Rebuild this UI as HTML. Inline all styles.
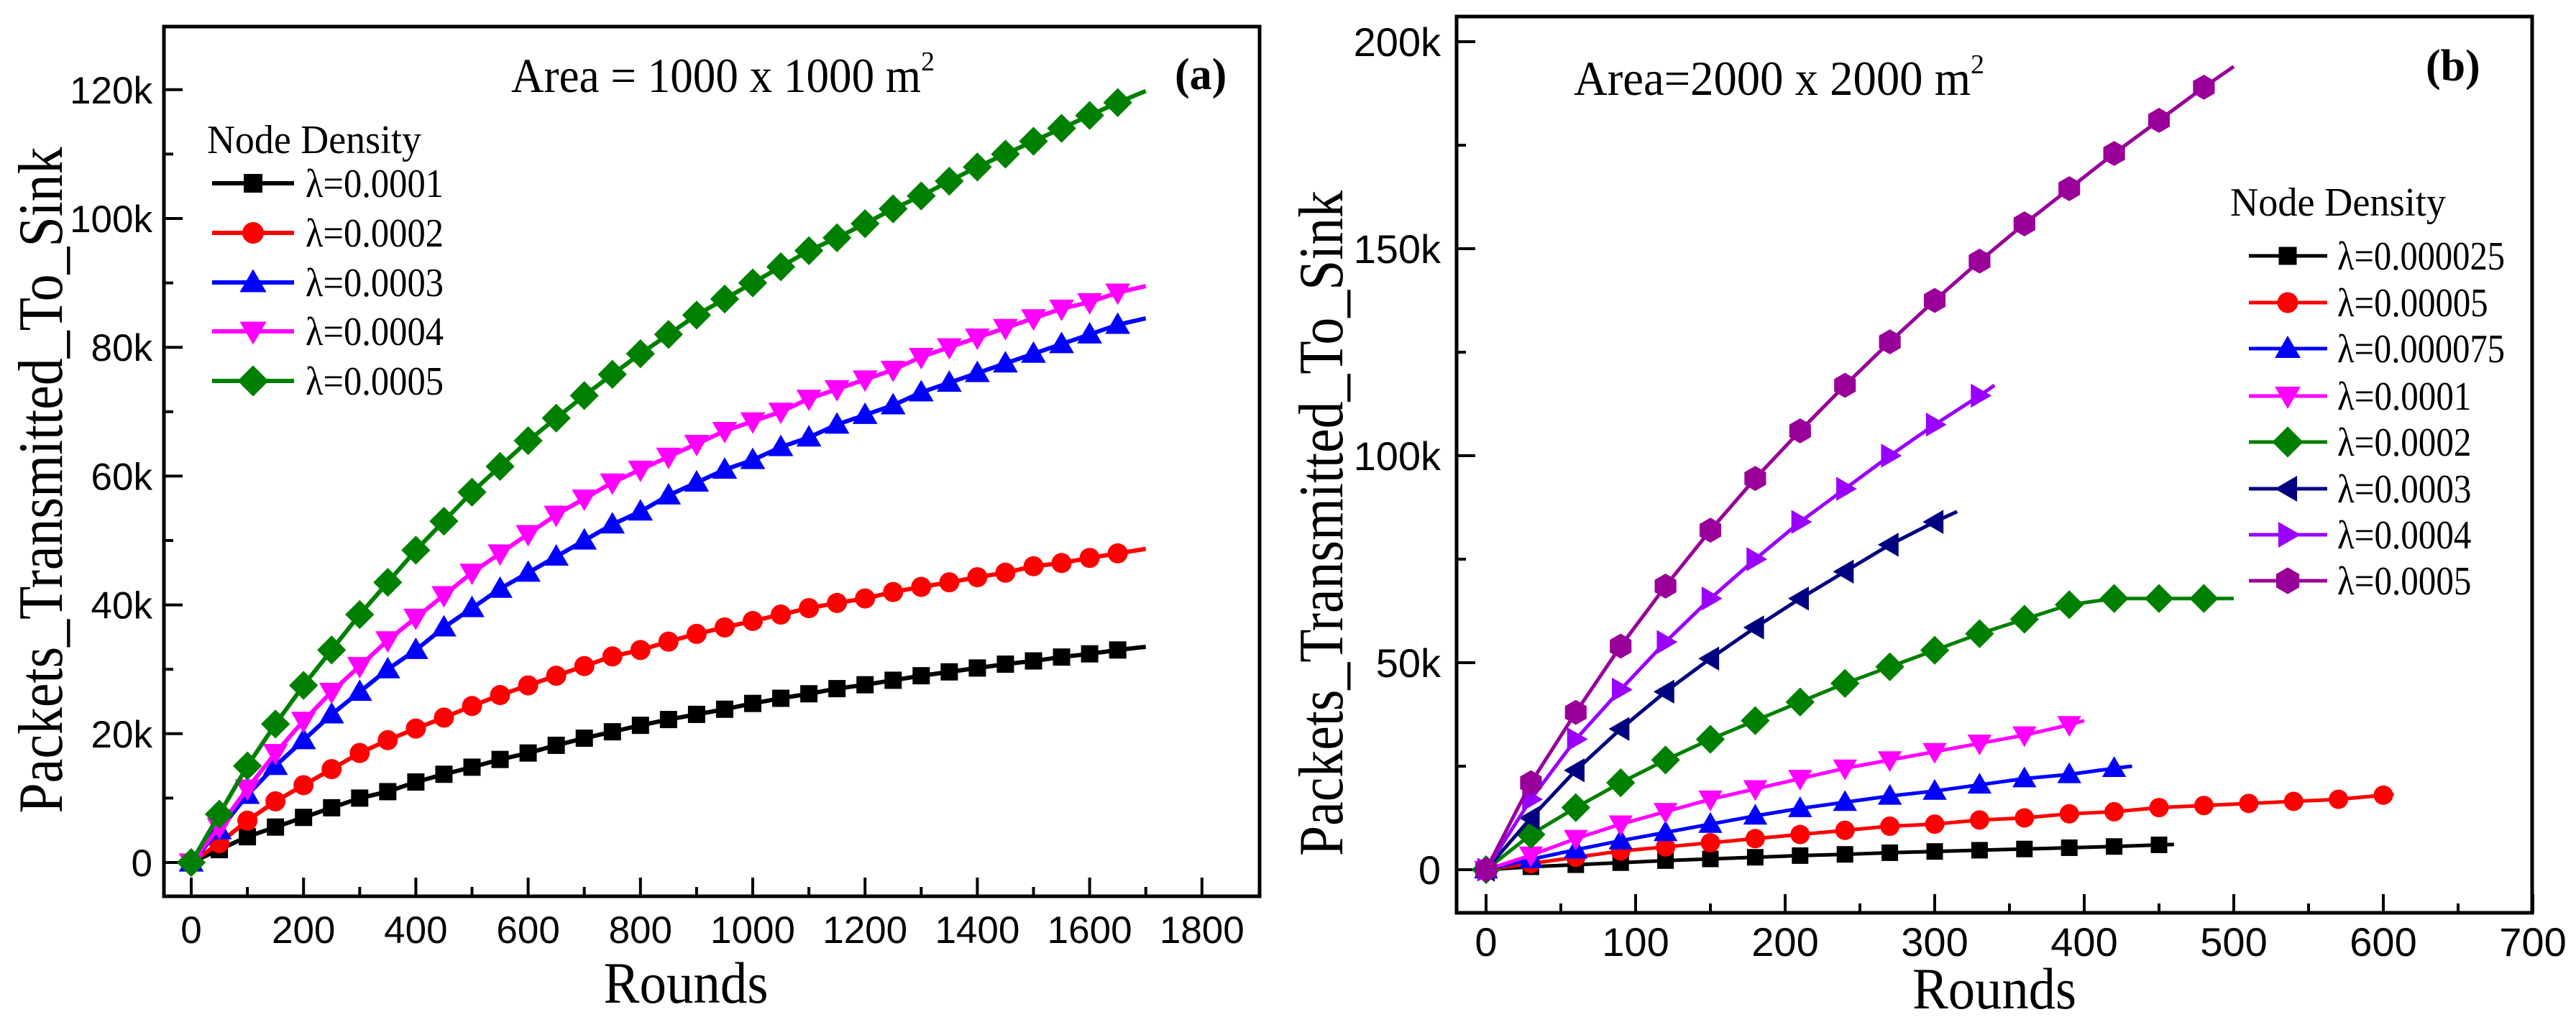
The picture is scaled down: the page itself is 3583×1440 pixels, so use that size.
<!DOCTYPE html>
<html><head><meta charset="utf-8"><style>
html,body{margin:0;padding:0;background:#fff;}
svg{display:block;}
text{fill:#000;}
</style></head><body>
<svg id="fig" width="3583" height="1440" viewBox="0 0 3583 1440" xmlns="http://www.w3.org/2000/svg">
<g id="pa"></g>
<g id="pb"></g>
</svg>
<script>
// ---------- Panel (a) data ----------
const aXTicks = [0,200,400,600,800,1000,1200,1400,1600,1800];
const aYTicks = [0,20,40,60,80,100,120];
const aYTickLabels = ["0","20k","40k","60k","80k","100k","120k"];
const aRounds = [0,50,100,150,200,250,300,350,400,450,500,550,600,650,700,750,800,850,900,950,1000,1050,1100,1150,1200,1250,1300,1350,1400,1450,1500,1550,1600,1650,1700];
const aLabels = ["λ=0.0001","λ=0.0002","λ=0.0003","λ=0.0004","λ=0.0005"];
const aBlack = [0,2,4,5.5,7,8.5,10,11,12.5,13.7,14.8,16,17,18.2,19.3,20.3,21.3,22.2,23,23.8,24.7,25.5,26.2,27,27.6,28.3,29,29.6,30.2,30.8,31.3,31.9,32.4,33,33.5];
const aRed = [0,3,6.5,9.5,12,14.5,17,19,20.8,22.5,24.3,26,27.5,29,30.5,32,33,34.3,35.5,36.5,37.5,38.5,39.5,40.3,41,42,42.8,43.5,44.3,45,46,46.5,47.3,48,48.7];
const aBlue = [0,5,10.5,15,19,23,26.5,30,33,36.5,39.5,42.5,45,47.5,50,52.5,54.5,57,59,61,62.5,64.5,66,68,69.5,71,73,74.5,76,77.5,79,80.5,82,83.5,84.5];
const aMagenta = [0,5.5,11.5,17,22,26.5,30.5,34.5,38,41.5,45,48,51,54,56.5,59,61,63,65,67,68.5,70,72,73.5,75,76.5,78.5,80,81.5,83,84.5,86,87,88.5,89.5];
const aGreen = [0,7.5,15,21.5,27.5,33,38.5,43.5,48.5,53,57.5,61.5,65.5,69,72.5,75.8,79,82,85,87.5,90,92.5,95,97,99.2,101.5,103.5,105.8,108,110,112,114,116,118,119.8];

// ---------- Panel (b) data ----------
const bXTicks = [0,100,200,300,400,500,600,700];
const bYTicks = [0,50,100,150,200];
const bYTickLabels = ["0","50k","100k","150k","200k"];
const bLabels = ["λ=0.000025","λ=0.00005","λ=0.000075","λ=0.0001","λ=0.0002","λ=0.0003","λ=0.0004","λ=0.0005"];
const bX1 = [0,30,60,90,120,150,180,210,240,270,300,330,360,390,420,450,460];
const bY1 = [0,0.7,1.2,1.7,2.2,2.6,3,3.4,3.7,4.1,4.4,4.7,5,5.3,5.6,6,6.1];
const bX2 = [0,30,60,90,120,150,180,210,240,270,300,330,360,390,420,450,480,510,540,570,600,607];
const bY2 = [0,1.5,3,4.5,5.5,6.5,7.5,8.5,9.5,10.5,11,12,12.5,13.5,14,15,15.5,16,16.5,17,18,18.2];
const bX3 = [0,30,60,90,120,150,180,210,240,270,300,330,360,390,420,432];
const bY3 = [0,2.5,4.8,7,9,11,13,14.8,16.3,17.8,19,20.5,22,23,24.5,25];
const bX4 = [0,30,60,90,120,150,180,210,240,270,300,330,360,390,400];
const bY4 = [0,3.5,7.5,11,14,17,19.5,22,24.5,26.5,28.5,30.5,32.5,35,36];
const bX5 = [0,30,60,90,120,150,180,210,240,270,300,330,360,390,420,450,480,500];
const bY5 = [0,8.5,15,21,26.5,31.5,36,40.5,45,49,53,57,60.5,64,65.5,65.5,65.5,65.5];
const bX6 = [0,30,60,90,120,150,180,210,240,270,300,315];
const bY6 = [0,12.5,24,34,43,51,58.5,65.5,72,78.5,84,86.5];
const bX7 = [0,30,60,90,120,150,180,210,240,270,300,330,340];
const bY7 = [0,17,31.5,43.5,55,65.5,75,84,92,100,107.5,114.5,117];
const bX8 = [0,30,60,90,120,150,180,210,240,270,300,330,360,390,420,450,480,500];
const bY8 = [0,21,38,54,68.5,82,94.5,106,117,127.5,137.5,147,156,164.5,173,181,189,194];

const NS = "http://www.w3.org/2000/svg";
function mk(parent, tag, attrs, txt){
  const e = document.createElementNS(NS, tag);
  for (const k in attrs) e.setAttribute(k, attrs[k]);
  if (txt !== undefined) e.textContent = txt;
  parent.appendChild(e);
  return e;
}
function marker(g, shape, cx, cy, s, color){
  let e;
  if (shape === "square") e = mk(g, "rect", {x:cx-s/2, y:cy-s/2, width:s, height:s, fill:color});
  else if (shape === "circle") e = mk(g, "circle", {cx:cx, cy:cy, r:s/2+1, fill:color});
  else if (shape === "up") e = mk(g, "polygon", {points:`${cx},${cy-s*0.62} ${cx-s*0.62},${cy+s*0.45} ${cx+s*0.62},${cy+s*0.45}`, fill:color});
  else if (shape === "down") e = mk(g, "polygon", {points:`${cx},${cy+s*0.62} ${cx-s*0.62},${cy-s*0.45} ${cx+s*0.62},${cy-s*0.45}`, fill:color});
  else if (shape === "left") e = mk(g, "polygon", {points:`${cx-s*0.62},${cy} ${cx+s*0.45},${cy-s*0.62} ${cx+s*0.45},${cy+s*0.62}`, fill:color});
  else if (shape === "right") e = mk(g, "polygon", {points:`${cx+s*0.62},${cy} ${cx-s*0.45},${cy-s*0.62} ${cx-s*0.45},${cy+s*0.62}`, fill:color});
  else if (shape === "diamond") e = mk(g, "polygon", {points:`${cx},${cy-s*0.72} ${cx+s*0.72},${cy} ${cx},${cy+s*0.72} ${cx-s*0.72},${cy}`, fill:color});
  else if (shape === "hex") { let p=[]; for(let i=0;i<6;i++){const a=Math.PI/6+i*Math.PI/3; p.push((cx+s*0.6*Math.cos(a))+","+(cy+s*0.6*Math.sin(a)));} e = mk(g, "polygon", {points:p.join(" "), fill:color}); }
  
  
  return e;
}
const SERIF = "'Liberation Serif', serif";
const SANS = "'Liberation Sans', sans-serif";

// ---------- Panel (a) drawing ----------
(function(){
  const g = document.getElementById("pa");
  const L=228, R=1752, T=37, B=1247;
  const X = v => 266 + v*0.781;
  const Y = v => 1200 - v*8.96;
  const frame = mk(g,"rect",{x:L,y:T,width:R-L,height:B-T,fill:"none",stroke:"#000","stroke-width":5});
   
  aXTicks.forEach((t,i)=>{
    const l = mk(g,"line",{x1:X(t),x2:X(t),y1:B,y2:B-26,stroke:"#000","stroke-width":4});
     
    if (i<aXTicks.length-1){ const m=mk(g,"line",{x1:X(t+100),x2:X(t+100),y1:B,y2:B-13,stroke:"#000","stroke-width":4});   }
    const tx = mk(g,"text",{x:X(t),y:1312,"text-anchor":"middle","font-family":SANS,"font-size":53},String(t));
     
  });
  aYTicks.forEach((t,i)=>{
    const l = mk(g,"line",{x1:L,x2:L+26,y1:Y(t),y2:Y(t),stroke:"#000","stroke-width":4});
     
    if (i<aYTicks.length-1){ const m=mk(g,"line",{x1:L,x2:L+13,y1:Y(t+10),y2:Y(t+10),stroke:"#000","stroke-width":4});   }
    const tx = mk(g,"text",{x:212,y:Y(t)+19,"text-anchor":"end","font-family":SANS,"font-size":53},aYTickLabels[i]);
     
  });
  const xt = mk(g,"text",{x:954,y:1395,"text-anchor":"middle","font-family":SERIF,"font-size":82,textLength:229,lengthAdjust:"spacingAndGlyphs"},"Rounds");
   
  const yt = mk(g,"text",{x:0,y:0,"text-anchor":"middle","font-family":SERIF,"font-size":88,textLength:927,lengthAdjust:"spacingAndGlyphs",transform:"translate(86,668) rotate(-90)"},"Packets_Transmitted_To_Sink");
   
  const ar = mk(g,"text",{x:711,y:128,"font-family":SERIF,"font-size":68},"");
   
  mk(ar,"tspan",{textLength:570,lengthAdjust:"spacingAndGlyphs"},"Area = 1000 x 1000 m");
  mk(ar,"tspan",{dy:-30,"font-size":38},"2");
  const pl = mk(g,"text",{x:1634,y:124,"font-family":SERIF,"font-size":62,"font-weight":"bold"},"(a)");
   

  const series = [aBlack,aRed,aBlue,aMagenta,aGreen];
  const colors = ["#000000","#ff0000","#0000ff","#ff00ff","#008000"];
  const shapes = ["square","circle","up","down","diamond"];
  const sizes = [24,26,28,28,28];
  series.forEach((ys,si)=>{
    const sg = mk(g,"g",{});
    
    
    const pts = aRounds.map((r,i)=>X(r)+","+Y(ys[i])).join(" ");
    const pl = mk(sg,"polyline",{points:pts,fill:"none",stroke:colors[si],"stroke-width":6,"stroke-linejoin":"round"});
     
    for (let i=0;i<aRounds.length-1;i++) marker(sg,shapes[si],X(aRounds[i]),Y(ys[i]),sizes[si],colors[si]);
  });
  const lg = mk(g,"g",{});
   
  const lt = mk(lg,"text",{x:288,y:213,"font-family":SERIF,"font-size":56,textLength:298,lengthAdjust:"spacingAndGlyphs"},"Node Density");
   
  const ly=[255,324,393,461,530];
  aLabels.forEach((lab,i)=>{
    const eg = mk(lg,"g",{});
     
    mk(eg,"line",{x1:295,x2:409,y1:ly[i],y2:ly[i],stroke:colors[i],"stroke-width":6});
    marker(eg,shapes[i],352,ly[i],sizes[i]+2,colors[i]);
    mk(eg,"text",{x:425,y:ly[i]+19,"font-family":SERIF,"font-size":56,textLength:lab.length*24,lengthAdjust:"spacingAndGlyphs"},lab);
  });
})();

// ---------- Panel (b) drawing ----------
(function(){
  const g = document.getElementById("pb");
  const L=2026, R=3522, T=23, B=1270;
  const X = v => 2067 + v*2.08;
  const Y = v => 1210 - v*5.76;
  const frame = mk(g,"rect",{x:L,y:T,width:R-L,height:B-T,fill:"none",stroke:"#000","stroke-width":5});
   
  bXTicks.forEach((t,i)=>{
    const l = mk(g,"line",{x1:X(t),x2:X(t),y1:B,y2:B-26,stroke:"#000","stroke-width":4});
     
    if (i<bXTicks.length-1){ const m=mk(g,"line",{x1:X(t+50),x2:X(t+50),y1:B,y2:B-13,stroke:"#000","stroke-width":4});   }
    const tx = mk(g,"text",{x:X(t),y:1330,"text-anchor":"middle","font-family":SANS,"font-size":56},String(t));
     
  });
  bYTicks.forEach((t,i)=>{
    const l = mk(g,"line",{x1:L,x2:L+26,y1:Y(t),y2:Y(t),stroke:"#000","stroke-width":4});
     
    if (i<bYTicks.length-1){ const m=mk(g,"line",{x1:L,x2:L+13,y1:Y(t+25),y2:Y(t+25),stroke:"#000","stroke-width":4});   }
    const tx = mk(g,"text",{x:2004,y:Y(t)+20,"text-anchor":"end","font-family":SANS,"font-size":56},bYTickLabels[i]);
     
  });
  const xt = mk(g,"text",{x:2774,y:1403,"text-anchor":"middle","font-family":SERIF,"font-size":82,textLength:228,lengthAdjust:"spacingAndGlyphs"},"Rounds");
   
  const yt = mk(g,"text",{x:0,y:0,"text-anchor":"middle","font-family":SERIF,"font-size":88,textLength:926,lengthAdjust:"spacingAndGlyphs",transform:"translate(1867,728) rotate(-90)"},"Packets_Transmitted_To_Sink");
   
  const ar = mk(g,"text",{x:2189,y:132,"font-family":SERIF,"font-size":68},"");
   
  mk(ar,"tspan",{textLength:552,lengthAdjust:"spacingAndGlyphs"},"Area=2000 x 2000 m");
  mk(ar,"tspan",{dy:-30,"font-size":38},"2");
  const pl = mk(g,"text",{x:3374,y:112,"font-family":SERIF,"font-size":62,"font-weight":"bold"},"(b)");
   

  const xs = [bX1,bX2,bX3,bX4,bX5,bX6,bX7,bX8];
  const ys = [bY1,bY2,bY3,bY4,bY5,bY6,bY7,bY8];
  const colors = ["#000000","#ff0000","#0000ff","#ff00ff","#008000","#000080","#9900ff","#990099"];
  const shapes = ["square","circle","up","down","diamond","left","right","hex"];
  const sizes = [23,25,27,27,28,27,27,29];
  xs.forEach((xv,si)=>{
    const sg = mk(g,"g",{});
    
    
    const pts = xv.map((r,i)=>X(r)+","+Y(ys[si][i])).join(" ");
    const pl = mk(sg,"polyline",{points:pts,fill:"none",stroke:colors[si],"stroke-width":5,"stroke-linejoin":"round"});
     
    for (let i=0;i<xv.length-1;i++) marker(sg,shapes[si],X(xv[i]),Y(ys[si][i]),sizes[si],colors[si]);
  });
  const lg = mk(g,"g",{});
   
  const lt = mk(lg,"text",{x:3102,y:300,"font-family":SERIF,"font-size":56,textLength:300,lengthAdjust:"spacingAndGlyphs"},"Node Density");
   
  const ly=[356,421,485,551,615,680,744,808];
  bLabels.forEach((lab,i)=>{
    const eg = mk(lg,"g",{});
     
    mk(eg,"line",{x1:3128,x2:3237,y1:ly[i],y2:ly[i],stroke:colors[i],"stroke-width":5});
    marker(eg,shapes[i],3182,ly[i],sizes[i]+2,colors[i]);
    mk(eg,"text",{x:3251,y:ly[i]+19,"font-family":SERIF,"font-size":56,textLength:lab.length*23.3,lengthAdjust:"spacingAndGlyphs"},lab);
  });
})();
</script>
</body></html>
